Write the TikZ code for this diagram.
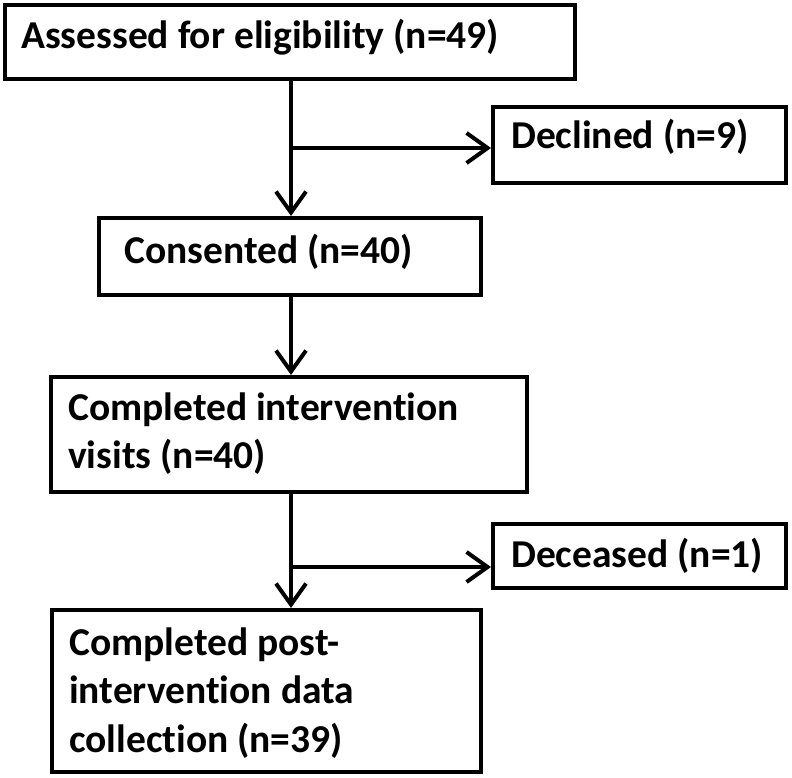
\documentclass[tikz,border=0pt]{standalone}
\usepackage{fontspec}
\setmainfont{Carlito}[Ligatures=NoCommon]
\usetikzlibrary{arrows.meta,calc}
\begin{document}
\begin{tikzpicture}[x=1pt,y=-1pt,
  box/.style={draw=black,line width=4pt,rectangle,inner sep=0pt,fill=white},
  txt/.style={inner sep=0pt,anchor=base west,font=\fontsize{39.5}{48}\selectfont\bfseries},
  flow/.style={line width=4pt,-{Straight Barb[length=21pt,width=30pt,line width=4pt]}}]
\useasboundingbox[fill=white] (0,0) rectangle (792,778);
% boxes
\node[box,minimum width=570pt,minimum height=74pt] (b1) at (290.25,42.25) {};
\node[box,minimum width=293pt,minimum height=76pt] (b2) at (639.5,145) {};
\node[box,minimum width=382pt,minimum height=77pt] (b3) at (290,256.5) {};
\node[box,minimum width=476pt,minimum height=115pt] (b4) at (289,434.5) {};
\node[box,minimum width=293pt,minimum height=64pt] (b5) at (639.5,556) {};
\node[box,minimum width=429pt,minimum height=162pt] (b6) at (266.5,691) {};
% texts
\node[txt] (t1) at (21,49) {Assessed for eligibility (n=49)};
\node[txt] (t2) at (511,149) {Declined (n=9)};
\node[txt] (t3) at (124,263) {Consented (n=40)};
\node[txt] (t4a) at (68,420) {Completed intervention};
\node[txt] (t4b) at (68,468) {visits (n=40)};
\node[txt] (t5) at (511,567) {Deceased (n=1)};
\node[txt] (t6a) at (69,655) {Completed post-};
\node[txt] (t6b) at (69,703) {intervention data};
\node[txt] (t6c) at (69,752) {collection (n=39)};
% junctions
\coordinate (j1) at (291,148);
\coordinate (j2) at (291,567);
% connectors
\draw[flow] (b1.south -| j1) -- (b3.north -| j1);
\draw[flow] (j1) -- (j1 -| b2.west);
\draw[flow] (b3.south -| j1) -- (b4.north -| j1);
\draw[flow] (b4.south -| j2) -- (b6.north -| j2);
\draw[flow] (j2) -- (j2 -| b5.west);
\end{tikzpicture}
\end{document}
